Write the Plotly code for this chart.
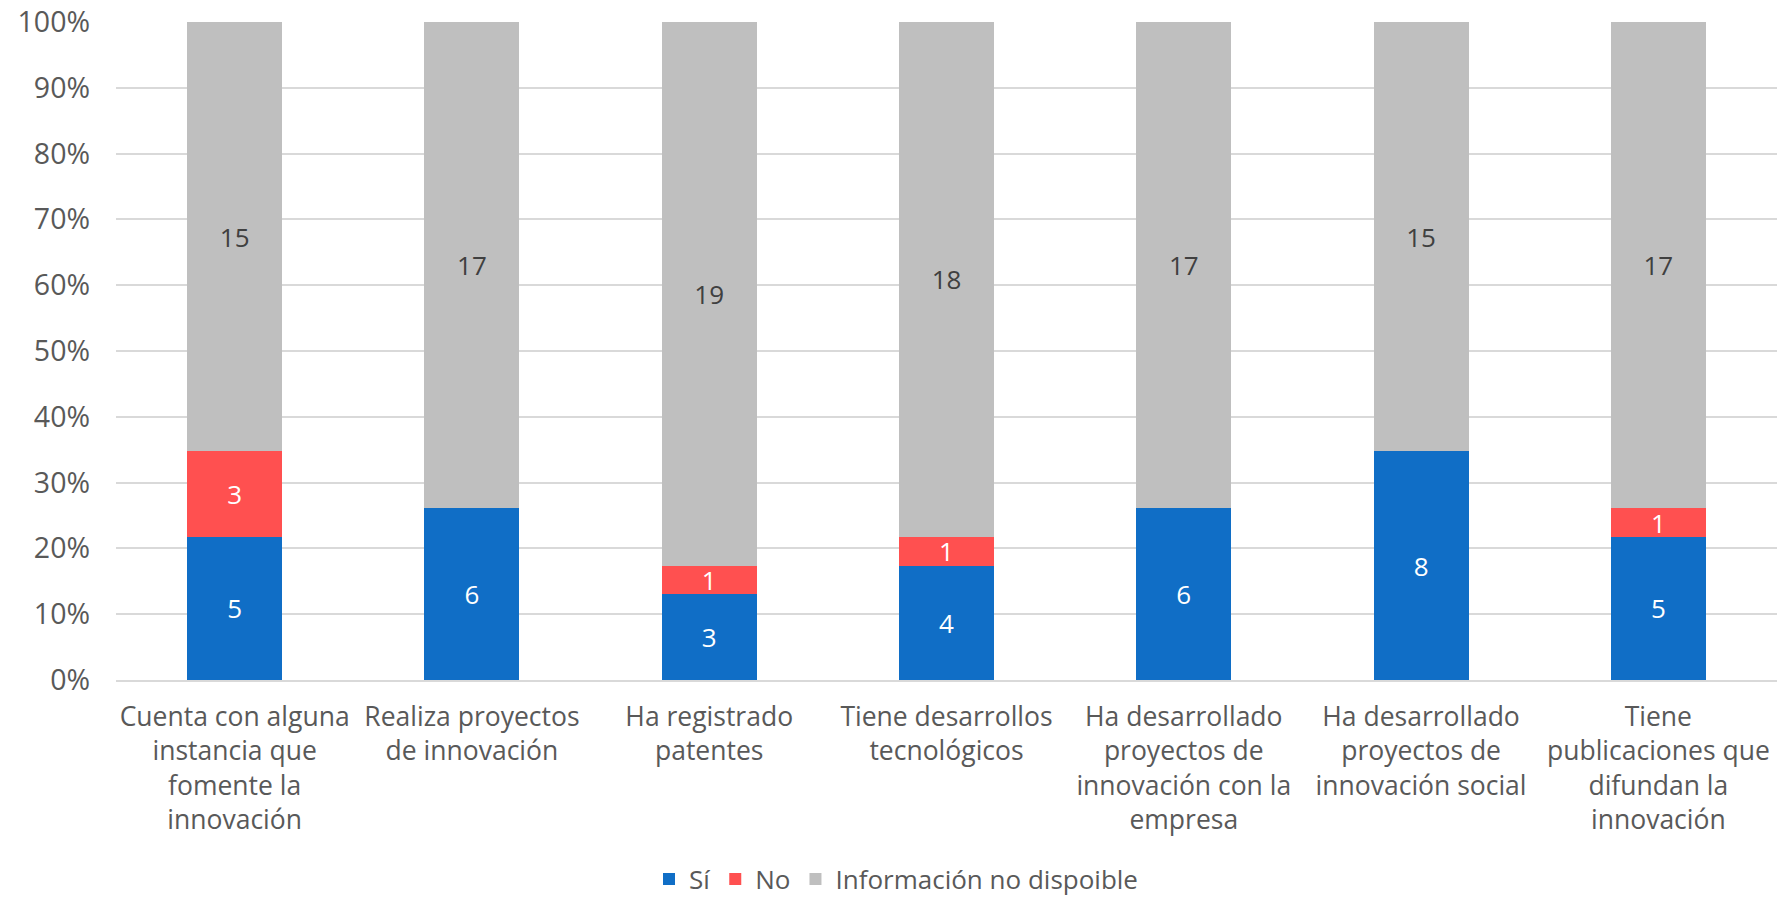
import plotly.graph_objects as go

categories = [
    "Cuenta con alguna<br>instancia que<br>fomente la<br>innovación",
    "Realiza proyectos<br>de innovación",
    "Ha registrado<br>patentes",
    "Tiene desarrollos<br>tecnológicos",
    "Ha desarrollado<br>proyectos de<br>innovación con la<br>empresa",
    "Ha desarrollado<br>proyectos de<br>innovación social",
    "Tiene<br>publicaciones que<br>difundan la<br>innovación",
]
si = [5, 6, 3, 4, 6, 8, 5]
no = [3, 0, 1, 1, 0, 0, 1]
na = [15, 17, 19, 18, 17, 15, 17]
series_names = ["Sí", "No", "Información no dispoible"]
colors = ["#106ec6", "#ff5050", "#bfbfbf"]
text_colors = ["#ffffff", "#ffffff", "#404040"]

FONT = "Open Sans"
fig = go.Figure()
for name, vals, col, tcol in zip(series_names, [si, no, na], colors, text_colors):
    fig.add_trace(go.Bar(
        x=categories, y=vals, name=name,
        marker=dict(color=col, line=dict(width=0)),
        text=[str(v) if v else "" for v in vals],
        textposition="inside", insidetextanchor="middle", textangle=0,
        constraintext="none",
        textfont=dict(color=tcol, size=26, family=FONT),
        hoverinfo="skip",
    ))

fig.update_layout(
    barmode="stack", barnorm="percent", bargap=0.6,
    width=1792, height=897,
    margin=dict(l=116, r=15, t=22, b=217, autoexpand=False),
    plot_bgcolor="white", paper_bgcolor="white",
    font=dict(family=FONT, color="#595959", size=26),
    showlegend=True,
    legend=dict(orientation="h", xref="container", x=0.5, xanchor="center",
                yref="container", y=0.02, yanchor="middle",
                font=dict(size=26, color="#595959"), traceorder="normal",
                itemwidth=30),
    uniformtext=dict(mode=False),
)
fig.update_yaxes(range=[0, 100], dtick=10, ticksuffix="%", showgrid=True,
                 gridcolor="#d9d9d9", gridwidth=2, zeroline=False, showline=False,
                 tickfont=dict(size=28.5, color="#595959"), ticks="", ticklen=0,
                 ticklabelstandoff=25, automargin=False)
fig.update_xaxes(showline=True, linecolor="#d9d9d9", linewidth=2,
                 tickfont=dict(size=26.5, color="#595959"), ticks="", tickangle=0,
                 ticklabelstandoff=12, automargin=False)
fig.write_html("out.html", config={"displayModeBar": False},
               post_script="document.body.style.margin='0';document.body.style.overflow='hidden';")
